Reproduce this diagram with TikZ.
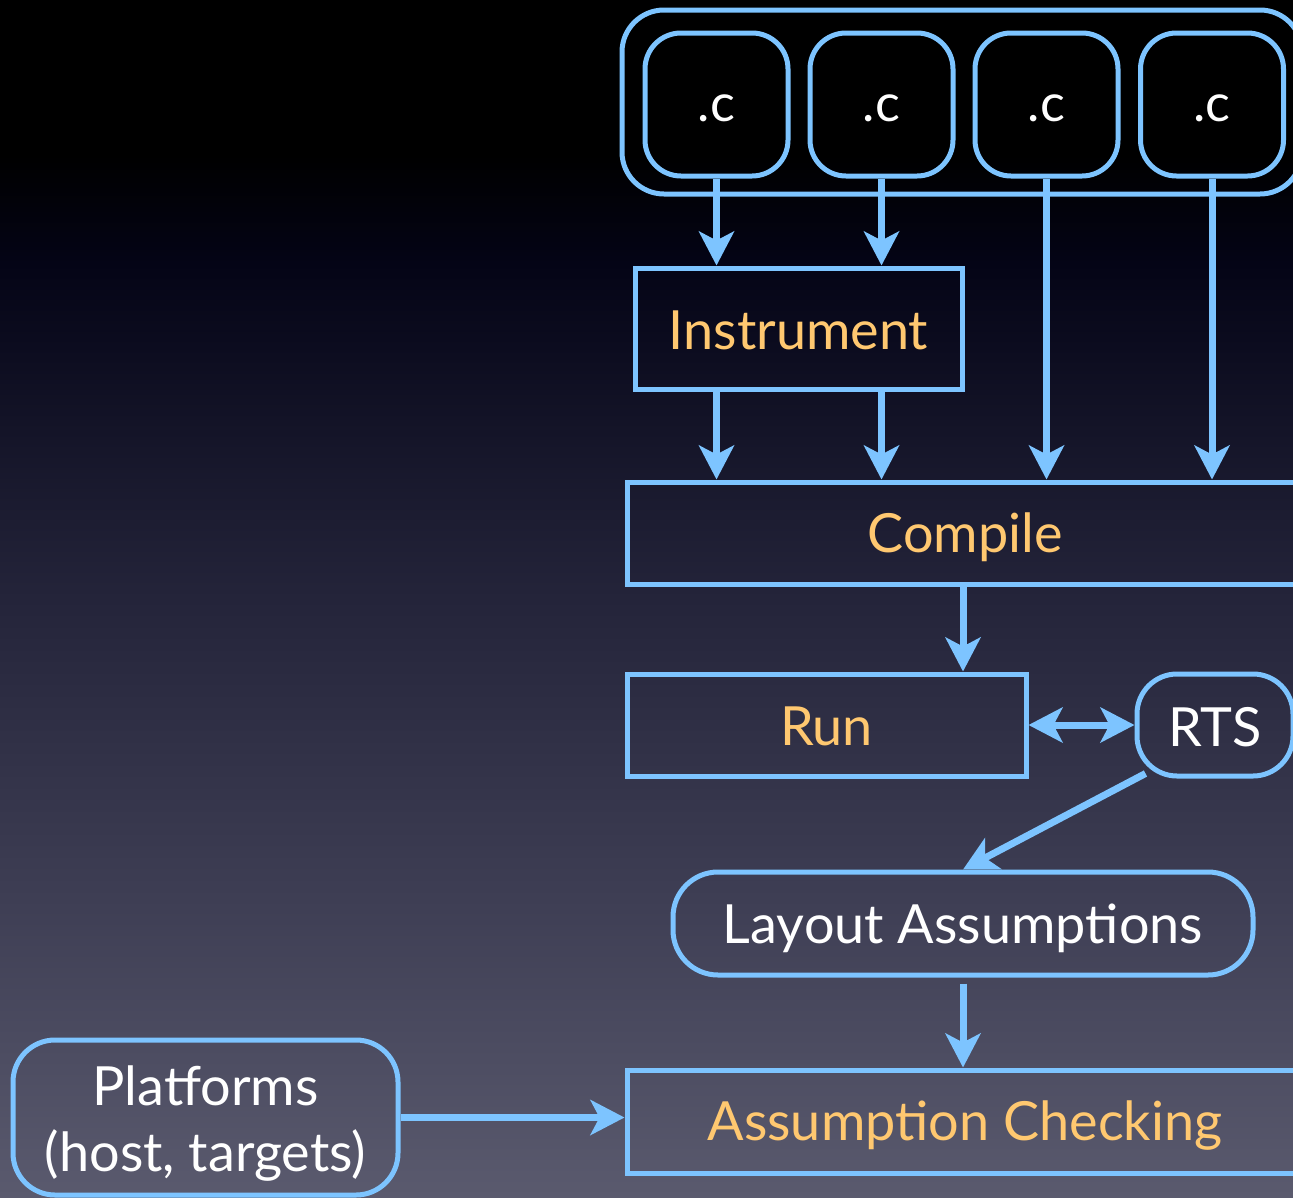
\documentclass[tikz,border=0pt]{standalone}
\usepackage{fontspec}
\setmainfont{Lato}
\usetikzlibrary{arrows.meta,calc}
\definecolor{blu}{RGB}{125,196,255}
\definecolor{org}{RGB}{255,200,112}
\definecolor{bgbot}{RGB}{90,90,110}
\definecolor{bglow}{RGB}{62,62,84}
\definecolor{bgmid}{RGB}{36,36,58}
\definecolor{bgtop}{RGB}{4,4,22}
% the path box maps onto 25bp..75bp of the shading
\pgfdeclareverticalshading{bgshade}{100bp}{color(0bp)=(bgbot); color(25bp)=(bgbot); color(37.5bp)=(bglow); color(50bp)=(bgmid); color(64bp)=(bgtop); color(68.5bp)=(black); color(100bp)=(black)}
\newcommand\lowr[2][4pt]{\raisebox{-#1}[\height][\depth]{#2}}
\tikzset{
  box/.style={draw=blu, line width=5pt, rectangle, inner sep=0pt, anchor=center},
  rbox/.style={box, rounded corners=36pt},
  lbl/.style={font=\fontsize{54}{66}\selectfont},
  ctext/.style={font=\fontsize{52}{56}\selectfont, text=white},
  arr/.style={draw=blu, line width=7pt, -{Stealth[length=34pt, width=35pt, inset=9pt]}},
  darr/.style={draw=blu, line width=7pt, {Stealth[length=34pt, width=35pt, inset=9pt]}-{Stealth[length=34pt, width=35pt, inset=9pt]}}
}
\begin{document}
\begin{tikzpicture}[x=1pt,y=-1pt]
\useasboundingbox (0,0) rectangle (1293,1197);
\shade[shading=bgshade] (0,0) rectangle (1293,1197);
% group of sources
\node[rbox, rounded corners=42pt, minimum width=680pt, minimum height=184pt] (grp) at (962,102) {};
\node[rbox, ctext, minimum width=143pt, minimum height=143pt] (c1) at (716.5,104.5) {\lowr{.c}};
\node[rbox, ctext, minimum width=143pt, minimum height=143pt] (c2) at (881.5,104.5) {\lowr{.c}};
\node[rbox, ctext, minimum width=143pt, minimum height=143pt] (c3) at (1046.5,104.5) {\lowr{.c}};
\node[rbox, ctext, minimum width=143pt, minimum height=143pt] (c4) at (1212,104.5) {\lowr{.c}};
% processing
\node[box, lbl, text=org, minimum width=327pt, minimum height=121pt] (ins) at (798.5,328.5) {\lowr[2pt]{Instrument}};
\node[box, lbl, text=org, minimum width=676pt, minimum height=102pt] (comp) at (965,533) {\lowr{Compile}};
\node[box, lbl, text=org, minimum width=399pt, minimum height=102pt] (run) at (826.5,725) {\lowr[1pt]{Run}};
\node[rbox, lbl, text=white, rounded corners=40pt, minimum width=156pt, minimum height=102pt] (rts) at (1215,725) {\lowr[2pt]{RTS}};
\node[rbox, lbl, text=white, rounded corners=45pt, minimum width=580pt, minimum height=103pt] (lay) at (963,923.5) {\lowr[5pt]{Layout Assumptions}};
\node[box, lbl, text=org, minimum width=676pt, minimum height=103pt] (ac) at (965,1121.5) {\lowr{Assumption Checking}};
\node[rbox, lbl, text=white, align=center, rounded corners=42pt, minimum width=385pt, minimum height=155pt] (plat) at (205.5,1117.5) {\lowr[6pt]{Platforms}\\\lowr[6pt]{(host, targets)}};
% connectors
\draw[arr] (c1.south) -- (c1.south |- ins.north);
\draw[arr] (c2.south) -- (c2.south |- ins.north);
\draw[arr] (c1.south |- ins.south) -- (c1.south |- comp.north);
\draw[arr] (c2.south |- ins.south) -- (c2.south |- comp.north);
\draw[arr] (c3.south) -- (c3.south |- comp.north);
\draw[arr] (c4.south) -- (c4.south |- comp.north);
\draw[arr] (comp.south -| lay.north) -- (lay.north |- run.north);
\draw[darr] (run.east) -- (rts.west);
\draw[arr] ($(rts.south west)+(11,-5)$) -- (lay.north);
\draw[arr, shorten <=6pt] (lay.south) -- (ac.north -| lay.south);
\draw[arr] (plat.east) -- (plat.east -| ac.west);
\end{tikzpicture}
\end{document}
